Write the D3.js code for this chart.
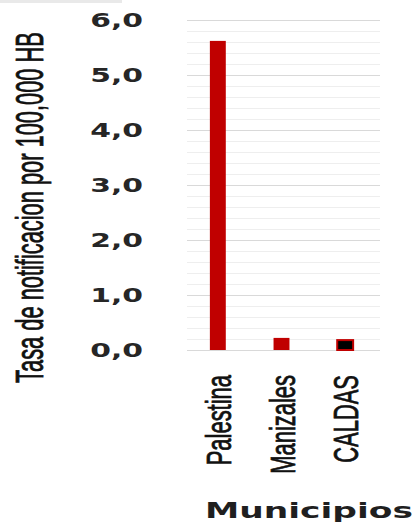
<!DOCTYPE html>
<html>
<head>
<meta charset="utf-8">
<script src="https://cdn.jsdelivr.net/npm/d3@7"></script>
<style>
  html, body { margin: 0; padding: 0; background: #fff; }
  svg { display: block; }
</style>
</head>
<body>
<svg id="chart" width="416" height="523"></svg>
<script>
const categories = ["Palestina", "Manizales", "CALDAS"];
const values = [5.62, 0.22, 0.18];
const fills = ["#c00000", "#c00000", "#000000"];
const yTicks = [0, 1, 2, 3, 4, 5, 6];
const yTickLabels = ["0,0", "1,0", "2,0", "3,0", "4,0", "5,0", "6,0"];
const minorTicks = d3.range(0, 6.0001, 0.2);
const yTitle = "Tasa de notificacion por 100,000 HB";
const xTitle = "Municipios";

const svg = d3.select("#chart");
const plotL = 187, plotR = 380, plotT = 20, plotB = 350;

// top-left light band
svg.append("rect").attr("x", 0).attr("y", 0).attr("width", 122).attr("height", 3)
  .attr("fill", "#e9e9e9");

const y = d3.scaleLinear().domain([0, 6]).range([plotB, plotT]);
const x = d3.scaleBand().domain(categories).range([186, 377])
  .paddingInner(0.75).paddingOuter(0.375);

// minor gridlines
svg.append("g").selectAll("line").data(minorTicks).join("line")
  .attr("x1", plotL).attr("x2", plotR)
  .attr("y1", d => Math.round(y(d)) + 0.5).attr("y2", d => Math.round(y(d)) + 0.5)
  .attr("stroke", "#eeeeee").attr("stroke-width", 1);

// major gridlines
svg.append("g").selectAll("line").data(yTicks).join("line")
  .attr("x1", plotL).attr("x2", plotR)
  .attr("y1", d => Math.round(y(d)) + 0.5).attr("y2", d => Math.round(y(d)) + 0.5)
  .attr("stroke", "#d9d9d9").attr("stroke-width", 1);

// bars
svg.append("g").selectAll("rect").data(categories).join("rect")
  .attr("x", d => x(d))
  .attr("width", x.bandwidth())
  .attr("y", (d, i) => y(values[i]))
  .attr("height", (d, i) => y(0) - y(values[i]))
  .attr("fill", (d, i) => fills[i])
  .attr("stroke", "#c00000")
  .attr("stroke-width", (d, i) => fills[i] === "#000000" ? 2 : 0);

// y tick labels
svg.append("g").selectAll("text").data(yTicks).join("text")
  .attr("transform", d => `translate(143,${y(d)}) scale(1.57,1)`)
  .attr("dy", "0.36em")
  .attr("text-anchor", "end")
  .attr("font-family", "DejaVu Sans")
  .attr("font-weight", "bold")
  .attr("font-size", 19)
  .attr("fill", "#262626")
  .text((d, i) => yTickLabels[i]);

// category labels
svg.append("g").selectAll("text").data(categories).join("text")
  .attr("transform", d => `translate(${x(d) + x.bandwidth() / 2 + 13},375) rotate(-90) scale(0.61,1)`)
  .attr("text-anchor", "end")
  .attr("font-family", "Liberation Sans")
  .attr("font-size", 36)
  .attr("fill", "#111")
  .attr("stroke", "#111")
  .attr("stroke-width", 0.8)
  .text(d => d);

// y title
const yt = svg.append("text")
  .attr("text-anchor", "middle")
  .attr("font-family", "Liberation Sans")
  .attr("font-size", 39)
  .attr("fill", "#111")
  .attr("stroke", "#111")
  .attr("stroke-width", 0.8)
  .text(yTitle);
const ytLen = yt.node().getComputedTextLength();
yt.attr("transform", `translate(43,207.5) rotate(-90) scale(${351 / ytLen},1)`);

// x title
const xt = svg.append("text")
  .attr("font-family", "DejaVu Sans")
  .attr("font-weight", "bold")
  .attr("font-size", 22)
  .attr("fill", "#1f1f1f")
  .text(xTitle);
const xtLen = xt.node().getComputedTextLength();
xt.attr("transform", `translate(205,518) scale(${208 / xtLen},1)`);
</script>
</body>
</html>
